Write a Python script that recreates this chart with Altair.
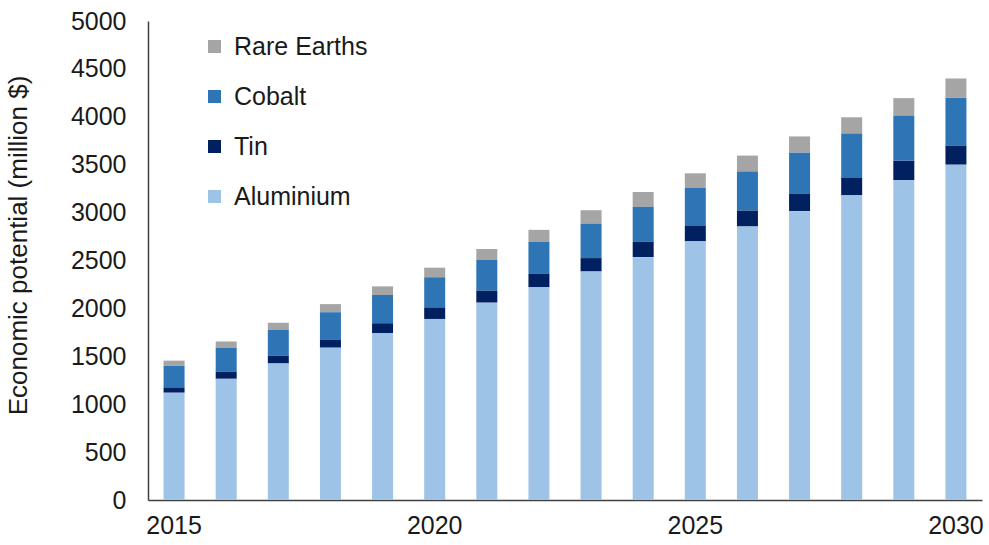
import altair as alt
import pandas as pd

years = list(range(2015, 2031))
aluminium = [1120, 1265, 1425, 1590, 1740, 1890, 2060, 2220, 2385, 2535, 2700, 2855, 3015, 3180, 3340, 3500]
tin = [55, 75, 80, 85, 105, 120, 125, 140, 140, 160, 160, 165, 180, 185, 200, 200]
cobalt = [225, 250, 270, 285, 295, 315, 320, 335, 360, 365, 400, 410, 430, 460, 470, 500]
rare_earths = [55, 65, 75, 85, 90, 100, 115, 125, 140, 155, 150, 165, 170, 170, 185, 200]

series = ["Rare Earths", "Cobalt", "Tin", "Aluminium"]
colors = ["#A5A5A5", "#2E75B6", "#002060", "#9DC3E6"]
stack_order = {"Aluminium": 0, "Tin": 1, "Cobalt": 2, "Rare Earths": 3}
values = {"Aluminium": aluminium, "Tin": tin, "Cobalt": cobalt, "Rare Earths": rare_earths}

rows = []
for name in series:
    for y, v in zip(years, values[name]):
        rows.append({"Year": y, "Metal": name, "Value": v, "order": stack_order[name]})
df = pd.DataFrame(rows)

FONT = "Liberation Sans"
FS = 25

chart = alt.Chart(df).mark_bar(size=21).encode(
    x=alt.X("Year:O", title=None,
            scale=alt.Scale(paddingInner=0.6, paddingOuter=0.3),
            axis=alt.Axis(values=[2015, 2020, 2025, 2030], labelAngle=0, ticks=False,
                          labelPadding=13, labelFontSize=FS, labelFont=FONT,
                          labelColor="#1a1a1a", domainColor="#404040", domainWidth=1.5)),
    y=alt.Y("Value:Q", title="Economic potential (million $)",
            scale=alt.Scale(domain=[0, 5000], nice=False),
            axis=alt.Axis(values=list(range(0, 5001, 500)), format="d", grid=False, ticks=False,
                          labelPadding=22, labelFontSize=FS, labelFont=FONT,
                          labelColor="#1a1a1a", domainColor="#404040", domainWidth=1.5,
                          titleFontSize=26, titleFont=FONT, titleFontWeight="normal",
                          titleColor="#1a1a1a", titleX=-130, titleY=224, titleAngle=-90,
                          titleAlign="center", titleBaseline="middle")),
    color=alt.Color("Metal:N", sort=series,
                    scale=alt.Scale(domain=series, range=colors),
                    legend=alt.Legend(title=None, orient="none", legendX=54, legendY=13,
                                      symbolType="square", symbolSize=169, symbolStrokeWidth=0,
                                      labelFontSize=FS, labelFont=FONT, labelColor="#1a1a1a",
                                      labelOffset=7, rowPadding=24)),
    order=alt.Order("order:Q", sort="ascending"),
).properties(
    width=834, height=479,
    autosize=alt.AutoSizeParams(type="none"),
    padding={"left": 148, "top": 21, "right": 7, "bottom": 45},
).configure_view(stroke=None)

chart.save("out.html", embed_options={"renderer": "svg", "actions": False})
